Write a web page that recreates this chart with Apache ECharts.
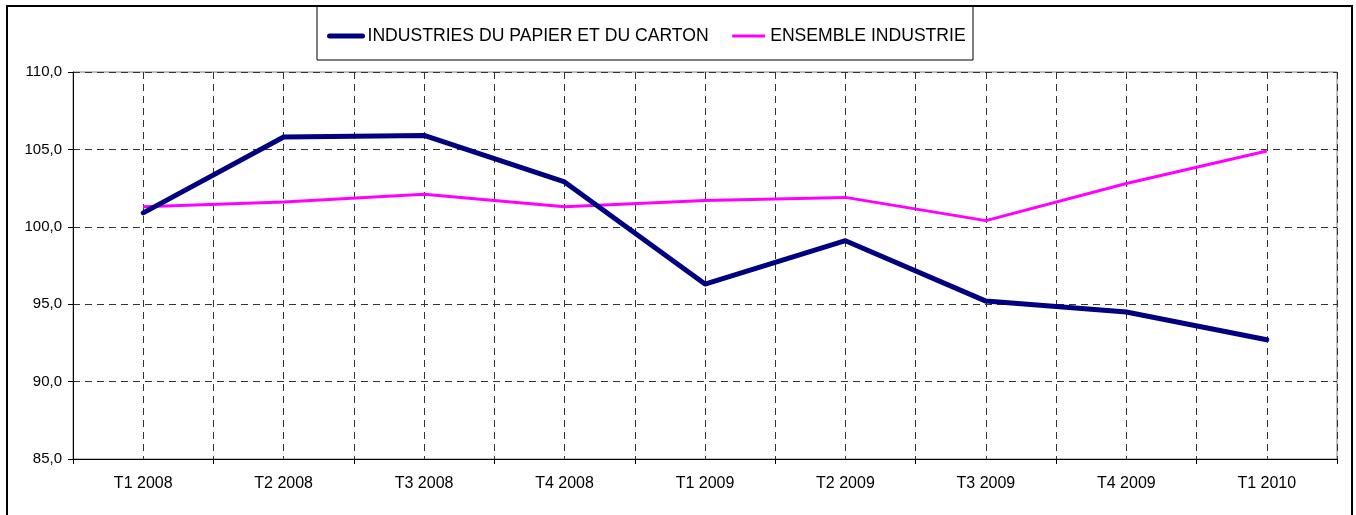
<!DOCTYPE html>
<html>
<head>
<meta charset="utf-8">
<script src="https://cdn.jsdelivr.net/npm/echarts@6/dist/echarts.min.js"></script>
<style>
  html, body { margin: 0; padding: 0; background: #fff; }
  #main { width: 1356px; height: 515px; }
</style>
</head>
<body>
<div id="main"></div>
<script>
var categories = ["T1 2008", "T2 2008", "T3 2008", "T4 2008", "T1 2009", "T2 2009", "T3 2009", "T4 2009", "T1 2010"];
var papierCarton = [100.9, 105.8, 105.9, 102.9, 96.3, 99.1, 95.2, 94.5, 92.7];
var ensembleIndustrie = [101.3, 101.6, 102.1, 101.3, 101.7, 101.9, 100.4, 102.8, 104.9];
var yTicks = { min: 85, max: 110, interval: 5 };

var chart = echarts.init(document.getElementById("main"));
var fontFam = "Liberation Sans, Arial, sans-serif";
var gridDash = { color: "#333", type: [7, 5], width: 1 };

var options = {
    animation: false,
    backgroundColor: "#fff",
    textStyle: { fontFamily: fontFam },
    grid: {
        left: 73, right: 19, top: 72, bottom: 56,
        show: true, borderColor: "#808080", borderWidth: 1, backgroundColor: "#fff"
    },
    legend: {
        left: 322, top: 22,
        itemWidth: 33, itemHeight: 14, itemGap: 22,
        itemStyle: { opacity: 0 },
        textStyle: { fontSize: 17.6, color: "#000", fontFamily: fontFam },
        data: [
            { name: "INDUSTRIES DU PAPIER ET DU CARTON", lineStyle: { width: 5, cap: "round" } },
            { name: "ENSEMBLE INDUSTRIE", lineStyle: { width: 3 } }
        ]
    },
    xAxis: [{
        type: "category",
        data: categories,
        boundaryGap: true,
        z: 3,
        axisLine: { lineStyle: { color: "#000", width: 1 } },
        axisTick: { show: true, inside: false, length: 5, lineStyle: { color: "#000" } },
        axisLabel: { fontSize: 16, color: "#000", margin: 17, fontFamily: fontFam },
        splitLine: { show: false }
    }, {
        // helper axis: dashed verticals at every half category
        type: "value",
        min: 0, max: 18, interval: 1,
        position: "bottom",
        z: 1,
        axisLine: { show: false },
        axisTick: { show: false },
        axisLabel: { show: false },
        splitLine: { show: true, lineStyle: gridDash }
    }],
    yAxis: {
        type: "value",
        min: yTicks.min, max: yTicks.max, interval: yTicks.interval,
        z: 3,
        axisLine: { show: true, lineStyle: { color: "#000", width: 1 } },
        axisTick: { show: true, inside: false, length: 5, lineStyle: { color: "#000" } },
        axisLabel: {
            fontSize: 15, color: "#000", margin: 11, fontFamily: fontFam,
            formatter: function (v) { return v.toFixed(1).replace(".", ","); }
        },
        splitLine: { show: true, lineStyle: gridDash }
    },
    series: [{
        name: "INDUSTRIES DU PAPIER ET DU CARTON",
        type: "line",
        xAxisIndex: 0,
        data: papierCarton,
        symbol: "none",
        z: 5,
        lineStyle: { color: "#000080", width: 5, cap: "round", join: "round" },
        itemStyle: { color: "#000080" }
    }, {
        name: "ENSEMBLE INDUSTRIE",
        type: "line",
        xAxisIndex: 0,
        data: ensembleIndustrie,
        symbol: "none",
        z: 4,
        lineStyle: { color: "#FF00FF", width: 3 },
        itemStyle: { color: "#FF00FF" }
    }],
    graphic: [{
        type: "rect",
        shape: { x: 7, y: 6, width: 1345, height: 530 },
        style: { fill: null, stroke: "#000", lineWidth: 2 },
        z: -1
    }, {
        type: "rect",
        shape: { x: 317, y: 6, width: 656, height: 54 },
        style: { fill: null, stroke: "#000", lineWidth: 1 },
        z: -1
    }]
};

chart.setOption(options);
</script>
</body>
</html>
